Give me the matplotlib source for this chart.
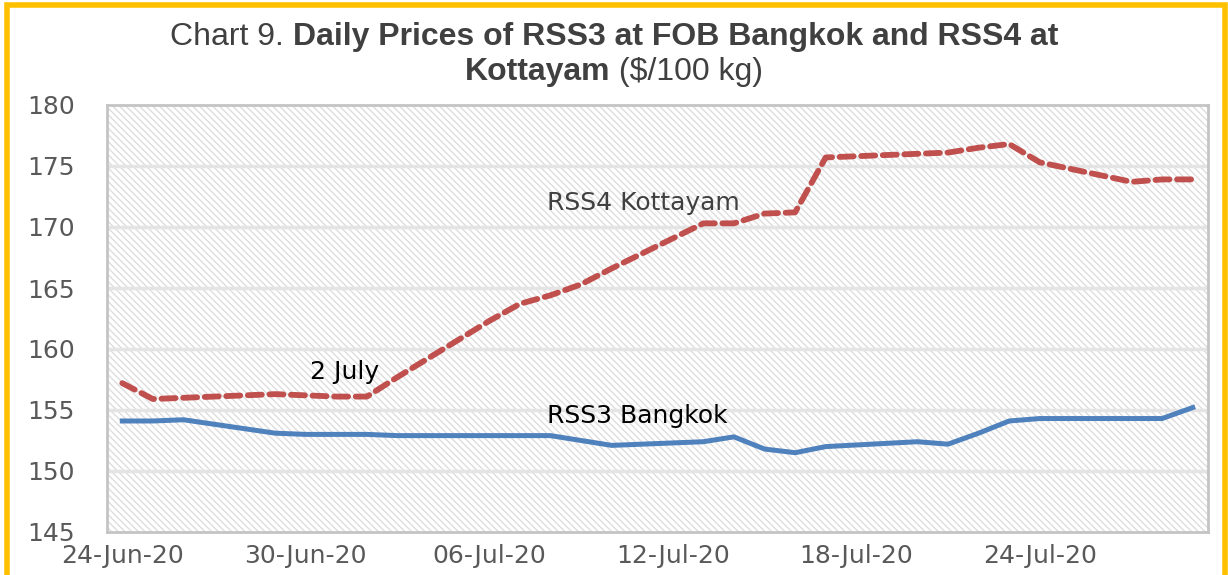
import pandas as pd
import matplotlib.pyplot as plt
import matplotlib.dates as mdates
from matplotlib.patches import Rectangle
from matplotlib.offsetbox import TextArea, HPacker, AnchoredOffsetbox

plt.rcParams['hatch.color'] = '#dedede'
plt.rcParams['hatch.linewidth'] = 1.0

dates = ['2020-06-24', '2020-06-25', '2020-06-26', '2020-06-29', '2020-06-30',
         '2020-07-01', '2020-07-02', '2020-07-03', '2020-07-06', '2020-07-07',
         '2020-07-08', '2020-07-09', '2020-07-10', '2020-07-13', '2020-07-14',
         '2020-07-15', '2020-07-16', '2020-07-17', '2020-07-20', '2020-07-21',
         '2020-07-22', '2020-07-23', '2020-07-24', '2020-07-27', '2020-07-28',
         '2020-07-29']
rss3_bangkok = [154.1, 154.1, 154.2, 153.1, 153.0, 153.0, 153.0, 152.9, 152.9, 152.9,
                152.9, 152.5, 152.1, 152.4, 152.8, 151.8, 151.5, 152.0, 152.4, 152.2,
                153.1, 154.1, 154.3, 154.3, 154.3, 155.2]
rss4_kottayam = [157.2, 155.9, 156.0, 156.3, 156.2, 156.1, 156.1, 157.7, 162.3, 163.7,
                 164.4, 165.3, 166.6, 170.3, 170.3, 171.1, 171.2, 175.7, 176.0, 176.1,
                 176.5, 176.8, 175.3, 173.7, 173.9, 173.9]
tick_dates = ['2020-06-24', '2020-06-30', '2020-07-06', '2020-07-12', '2020-07-18', '2020-07-24']


def title_line(fig, parts, y):
    boxes = [TextArea(t, textprops=dict(fontsize=23, color='#404040', fontweight=w,
                                        family='Liberation Sans')) for t, w in parts]
    pack = HPacker(children=boxes, pad=0, sep=0, align='baseline')
    anchored = AnchoredOffsetbox(loc='center', child=pack, frameon=False, pad=0,
                                 bbox_to_anchor=(0.5, y), bbox_transform=fig.transFigure,
                                 borderpad=0)
    fig.add_artist(anchored)


def main():
    x = pd.to_datetime(dates)
    day0 = pd.Timestamp(dates[0])
    fig = plt.figure(figsize=(12.28, 5.75), dpi=100)
    ax = fig.add_axes([107 / 1228, 1 - 532 / 575, (1208 - 107) / 1228, (532 - 105) / 575])

    ax.set_xlim(day0 - pd.Timedelta(hours=12), pd.Timestamp(dates[-1]) + pd.Timedelta(hours=12))
    ax.set_ylim(145, 180)

    # hatched plot background
    ax.add_patch(Rectangle((0, 0), 1, 1, transform=ax.transAxes, facecolor='white',
                           hatch='\\\\\\\\\\', edgecolor='#dedede', linewidth=0, zorder=0))
    for v in range(150, 180, 5):
        ax.axhline(v, color='#e4e4e4', linewidth=2.5, zorder=1)

    ax.plot(x, rss4_kottayam, color='#c0504d', linewidth=4.2, linestyle=(0, (2.4, 1.3)),
            zorder=3, dash_capstyle='round')
    ax.plot(x, rss3_bangkok, color='#4f81bd', linewidth=3.6, zorder=3)

    ax.set_yticks(range(145, 181, 5))
    ax.set_xticks(pd.to_datetime(tick_dates))
    ax.xaxis.set_major_formatter(mdates.DateFormatter('%d-%b-%y'))
    ax.tick_params(length=0, labelsize=18, labelcolor='#595959')
    ax.tick_params(axis='y', pad=23)
    ax.tick_params(axis='x', pad=9)
    for s in ax.spines.values():
        s.set_color('#c4c4c4')
        s.set_linewidth(2)

    ax.text(day0 + pd.Timedelta(days=13.9), 172.0, 'RSS4 Kottayam', fontsize=18,
            color='#404040', va='center')
    ax.text(day0 + pd.Timedelta(days=6.15), 158.1, '2 July', fontsize=18,
            color='black', va='center')
    ax.text(day0 + pd.Timedelta(days=13.9), 154.5, 'RSS3 Bangkok', fontsize=18,
            color='black', va='center')

    title_line(fig, [('Chart 9. ', 'normal'),
                     ('Daily Prices of RSS3 at FOB Bangkok and RSS4 at', 'bold')], 1 - 37 / 575)
    title_line(fig, [('Kottayam', 'bold'), (' ($/100 kg)', 'normal')], 1 - 72 / 575)

    fig.patches.append(Rectangle((7 / 1228, -0.1), (1218 / 1228), 1.1 - 5 / 575,
                                 transform=fig.transFigure, fill=False,
                                 edgecolor='#ffc000', linewidth=4))

    fig.savefig('out.png', dpi=100)


if __name__ == '__main__':
    main()
